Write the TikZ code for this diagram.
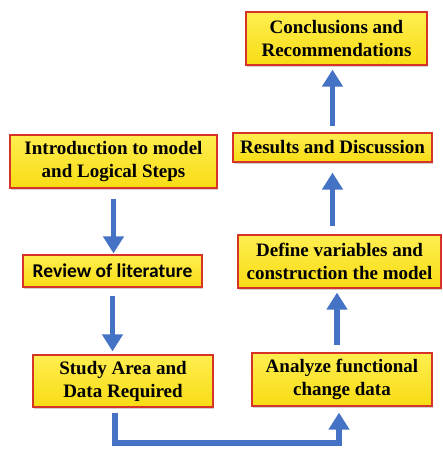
\documentclass[tikz,border=0pt]{standalone}
\usepackage{fontspec}
\setmainfont{Liberation Serif}
\newfontfamily\labelsans{Carlito}
\usetikzlibrary{arrows.meta,shadows}
\definecolor{flowblue}{RGB}{68,114,196}
\definecolor{boxred}{RGB}{214,52,38}
\definecolor{yellowtop}{RGB}{255,238,80}
\definecolor{yellowbot}{RGB}{248,220,20}
\begin{document}
\begin{tikzpicture}[x=1pt,y=-1pt,
  stage/.style={draw=boxred, line width=1.2pt,
    top color=yellowtop, bottom color=yellowbot,
    drop shadow={shadow xshift=1pt, shadow yshift=-2pt, opacity=0.18, fill=black},
    align=center, inner sep=0pt,
    font=\bfseries\fontsize{19}{23}\selectfont},
  flow/.style={draw=flowblue, line width=5.5pt,
    -{Triangle[width=20pt,length=17pt]}}]
\useasboundingbox[fill=white] (0,0) rectangle (443,449);

% stages
\node[stage, minimum width=207pt, minimum height=53pt] (intro) at (113.5,161.5)
  {Introduction to model\\and Logical Steps};
\node[stage, minimum width=179pt, minimum height=32pt,
  font=\labelsans\bfseries\fontsize{19.5}{22}\selectfont] (review) at (112.5,271)
  {Review of literature};
\node[stage, minimum width=180pt, minimum height=52pt] (study) at (123,381)
  {Study Area and\\Data Required};
\node[stage, minimum width=180pt, minimum height=53pt] (analyze) at (342,379.5)
  {Analyze functional\\change data};
\node[stage, minimum width=203pt, minimum height=53pt] (define) at (339.5,261.5)
  {Define variables and\\construction the model};
\node[stage, minimum width=199pt, minimum height=29pt] (results) at (332.5,147.5)
  {Results and Discussion};
\node[stage, minimum width=181pt, minimum height=53pt] (concl) at (336.5,38.5)
  {Conclusions and\\Recommendations};

% connectors
\coordinate (low) at (0,443);
\draw[flow, shorten <=10pt, shorten >=1pt] (intro.south) -- (intro.south |- review.north);
\draw[flow, shorten <=8pt, shorten >=3pt] (review.south) -- (review.south |- study.north);
\draw[flow, shorten <=5pt, shorten >=6pt]
  ([xshift=-8pt]study.south) -- ([xshift=-8pt]study.south |- low)
  -| ([xshift=-3pt]analyze.south);
\draw[flow, shorten <=7pt, shorten >=4pt]
  ([xshift=-5pt]analyze.north) -- ([xshift=-5pt]analyze.north |- define.south);
\draw[flow, shorten <=8pt, shorten >=10pt] (define.north -| results.south) -- (results.south);
\draw[flow, shorten <=6pt, shorten >=4pt] (results.north) -- (results.north |- concl.south);
\end{tikzpicture}
\end{document}
